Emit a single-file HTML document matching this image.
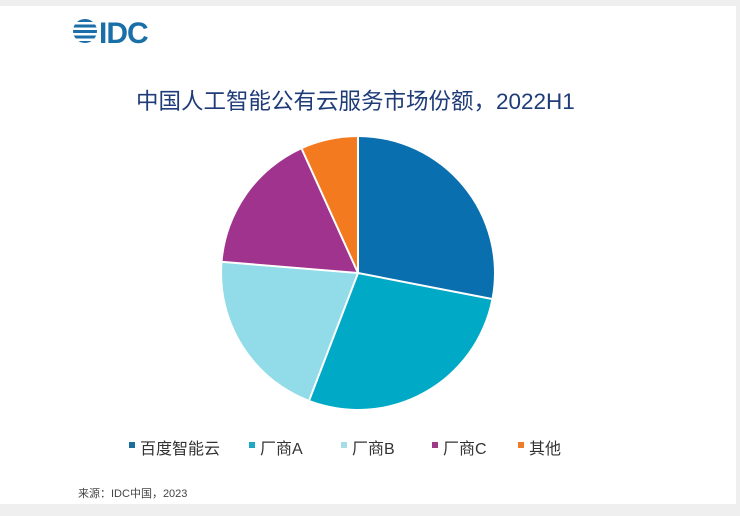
<!DOCTYPE html>
<html><head><meta charset="utf-8"><style>
html,body{margin:0;padding:0;}
body{width:740px;height:516px;background:#efefef;position:relative;overflow:hidden;font-family:"Liberation Sans","Noto Sans CJK SC",sans-serif;}
.card{position:absolute;left:0;top:6px;width:736px;height:498px;background:#fff;}
.t{position:absolute;white-space:nowrap;}
</style></head><body>
<div class="card"></div>
<svg width="740" height="516" style="position:absolute;left:0;top:0">
  <defs><clipPath id="c"><circle cx="85" cy="31" r="12"/></clipPath></defs>
  <g fill="#1a6fa8" clip-path="url(#c)">
    <rect x="72" y="19" width="26" height="3"/>
    <rect x="72" y="24.5" width="26" height="3"/>
    <rect x="72" y="30" width="26" height="3"/>
    <rect x="72" y="35.5" width="26" height="3"/>
    <rect x="72" y="41" width="26" height="2"/>
  </g>
  <text x="99" y="43" font-family="Liberation Sans" font-weight="bold" font-size="30" fill="#1a6fa8" letter-spacing="-1">IDC</text>
  <path d="M358,273 L358,137 A136,136 0 0 1 491.5,298.9 Z" fill="#0a6fae"/>
  <path d="M358,273 L491.5,298.9 A136,136 0 0 1 309.3,400 Z" fill="#00a9c6"/>
  <path d="M358,273 L309.3,400 A136,136 0 0 1 222.5,261.9 Z" fill="#92dbe8"/>
  <path d="M358,273 L222.5,261.9 A136,136 0 0 1 301.8,149.1 Z" fill="#a0338d"/>
  <path d="M358,273 L301.8,149.1 A136,136 0 0 1 358,137 Z" fill="#f47a1f"/>
  <g stroke="#fff" stroke-width="2">
    <line x1="358" y1="273" x2="358" y2="137"/>
    <line x1="358" y1="273" x2="491.5" y2="298.9"/>
    <line x1="358" y1="273" x2="309.3" y2="400"/>
    <line x1="358" y1="273" x2="222.5" y2="261.9"/>
    <line x1="358" y1="273" x2="301.8" y2="149.1"/>
  </g>
  <rect x="129" y="442" width="6" height="6" fill="#1a6f9a"/>
  <rect x="249" y="442" width="6" height="6" fill="#20a9c2"/>
  <rect x="341" y="442" width="6" height="6" fill="#a6dce6"/>
  <rect x="432" y="442" width="6" height="6" fill="#9c3a88"/>
  <rect x="518" y="442" width="6" height="6" fill="#f07c2a"/>
</svg>
<div class="t" style="left:136px;top:84px;font-size:22.5px;color:#1f3c78;">中国人工智能公有云服务市场份额，2022H1</div>
<div class="t" style="left:140px;top:435px;font-size:16px;color:#333;">百度智能云</div>
<div class="t" style="left:260px;top:435px;font-size:16px;color:#333;">厂商A</div>
<div class="t" style="left:352px;top:435px;font-size:16px;color:#333;">厂商B</div>
<div class="t" style="left:443px;top:435px;font-size:16px;color:#333;">厂商C</div>
<div class="t" style="left:529px;top:435px;font-size:16px;color:#333;">其他</div>
<div class="t" style="left:78px;top:485px;font-size:11px;color:#444;">来源：IDC中国，2023</div>
</body></html>
